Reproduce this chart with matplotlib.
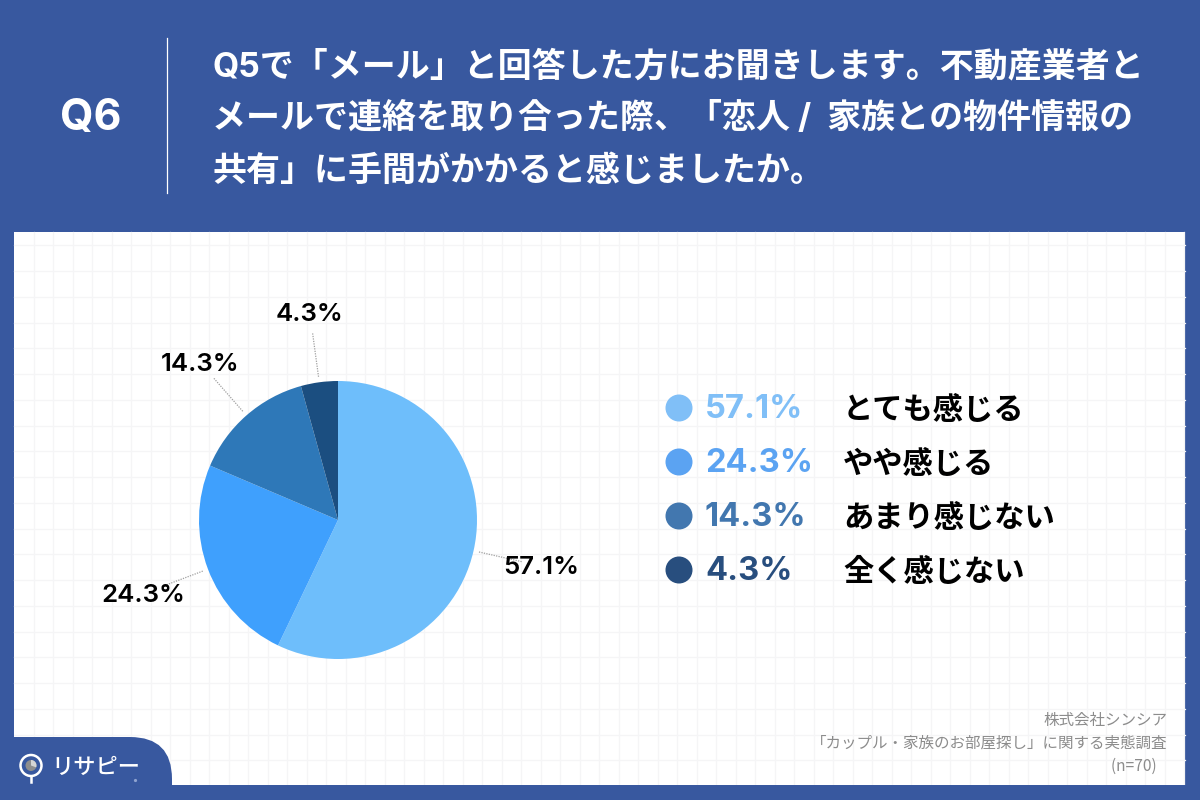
# plot.py
import numpy as np
import matplotlib
matplotlib.use("Agg")
import matplotlib.pyplot as plt
from matplotlib.patches import Circle, FancyBboxPatch, Rectangle, Wedge

plt.rcParams["font.family"] = ["Inter", "Noto Sans CJK JP", "DejaVu Sans"]
JP = ["Noto Sans CJK JP", "DejaVu Sans"]

categories = ["とても感じる", "やや感じる", "あまり感じない", "全く感じない"]
values = [57.1, 24.3, 14.3, 4.3]
pie_colors = ["#6EBEFB", "#3FA0FD", "#2E78B8", "#1B4E80"]
legend_colors = ["#80BFF7", "#5BA3F2", "#4277AF", "#284E7E"]

title_lines = [
    "Q5で「メール」と回答した方にお聞きします。不動産業者と",
    "メールで連絡を取り合った際、「恋人 /  家族との物件情報の",
    "共有」に手間がかかると感じましたか。",
]
source_lines = [
    "株式会社シンシア",
    "「カップル・家族のお部屋探し」に関する実態調査",
    "(n=70)   ",
]

BLUE = "#38589F"

fig = plt.figure(figsize=(12, 8), dpi=100, facecolor=BLUE)

# page layer in pixel coordinates
bg = fig.add_axes([0, 0, 1, 1])
bg.set_xlim(0, 1200)
bg.set_ylim(800, 0)
bg.axis("off")

bg.add_patch(Rectangle((14, 232), 1171, 553, fc="white", ec="none", zorder=1))
for x in np.arange(33.5, 1185, 19.5):
    bg.plot([x, x], [232, 785], color="#F5F5F6", lw=0.9, zorder=2)
for y in np.arange(245.3, 785, 25.75):
    bg.plot([14, 1185], [y, y], color="#F5F5F6", lw=0.9, zorder=2)

# header
bg.text(91, 118, "Q6", color="white", fontsize=31, fontweight="bold",
        ha="center", va="center")
bg.plot([167, 167], [38, 193], color="white", lw=0.9)
for y, line in zip([67, 118, 172], title_lines):
    bg.text(212, y, line, color="white", fontsize=24.45, fontweight="bold",
            ha="left", va="center")

# legend
for y, val, name, col in zip([408, 462, 516, 570], values, categories, legend_colors):
    bg.add_patch(Circle((679, y), 13.5, fc=col, ec="none", zorder=3))
    bg.text(705, y + 2, f"{val}%", color=col, fontsize=23.5, fontweight="bold",
            ha="left", va="center", zorder=3)
    bg.text(843, y + 2, name, color="black", fontsize=21.8, fontweight="bold",
            family=JP, ha="left", va="center", zorder=3)

# source note
for y, line in zip([721, 743, 766], source_lines):
    bg.text(1167, y, line, color="#8C8C8C", fontsize=11.2, family=JP,
            ha="right", va="center", zorder=3)

# logo tab
bg.add_patch(FancyBboxPatch((-40, 737), 212, 120,
                            boxstyle="round,pad=0,rounding_size=42",
                            fc=BLUE, ec="none", zorder=4))
bg.add_patch(Rectangle((0, 785), 1200, 15, fc=BLUE, ec="none", zorder=5))
bg.add_patch(Rectangle((0, 700), 14, 100, fc=BLUE, ec="none", zorder=5))
bg.add_patch(Circle((31, 765.5), 10.5, fc="none", ec="white", lw=1.8, zorder=6))
bg.plot([31, 31], [776, 782], color="white", lw=1.8, zorder=6)
bg.add_patch(Circle((31, 765.5), 5.5, fc="#8E8E8E", ec="none", zorder=6))
bg.add_patch(Wedge((31, 765.5), 5.5, 270, 20, fc="#D5D5D5", ec="none", zorder=6))
bg.text(51, 767, "リサピー", color="white", fontsize=16, fontweight="medium",
        family=JP, ha="left", va="center", zorder=6)
bg.add_patch(Circle((135.5, 780.5), 1.6, fc="#8FA3D0", ec="none", zorder=6))

# pie, leader lines and labels
R = 139
ax = fig.add_axes([(338 - R) / 1200, (800 - 520 - R) / 800, 2 * R / 1200, 2 * R / 800])
ax.patch.set_alpha(0)
ax.pie(values, colors=pie_colors, startangle=90, counterclock=False, radius=1,
       wedgeprops={"linewidth": 0})
ax.set_xlim(-1, 1)
ax.set_ylim(-1, 1)

start = 0
for val in values:
    mid = np.deg2rad(90 - (start + val / 2) * 360 / sum(values))
    start += val
    ux, uy = np.cos(mid), -np.sin(mid)
    bg.plot([338 + 1.04 * R * ux, 338 + 1.36 * R * ux],
            [520 + 1.04 * R * uy, 520 + 1.36 * R * uy],
            color="#A0A0A0", lw=0.9, ls=(0, (1, 1)), zorder=3)
    bg.text(338 + 1.5 * R * ux, 521.5 + 1.5 * R * uy, f"{val}%", color="black",
            fontsize=18.6, fontweight="semibold", ha="center", va="center", zorder=3)

fig.savefig("out.png", dpi=100, facecolor=BLUE)
plt.close(fig)
